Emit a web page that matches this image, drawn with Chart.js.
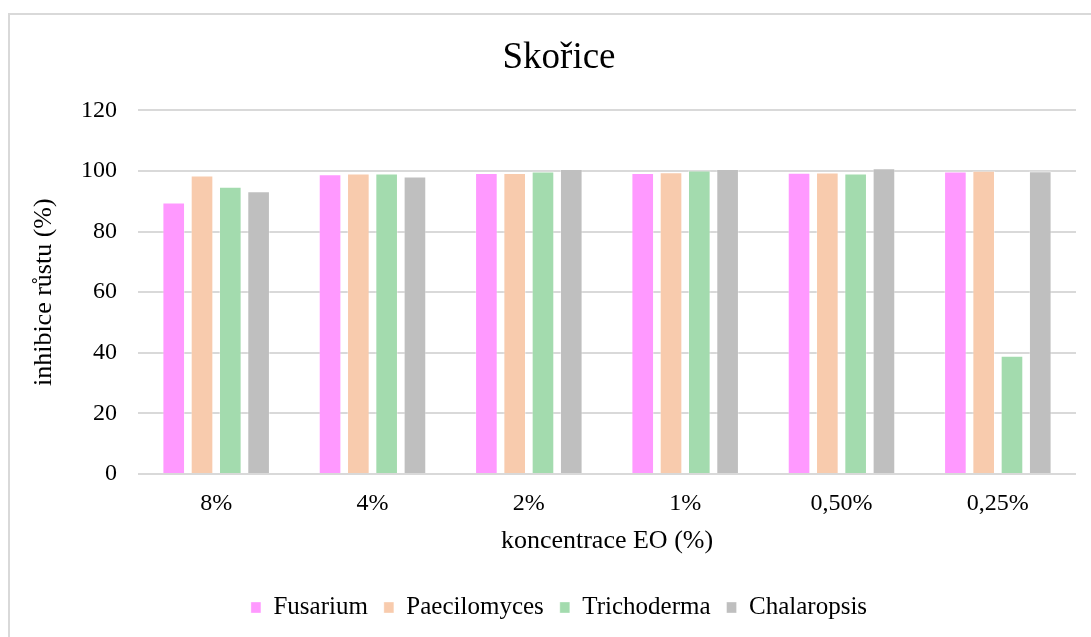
<!DOCTYPE html>
<html>
<head>
<meta charset="utf-8">
<script src="https://cdn.jsdelivr.net/npm/chart.js@4/dist/chart.umd.min.js"></script>
<style>
  html, body { margin: 0; padding: 0; background: #fff; overflow: hidden; width: 1091px; height: 637px; }
  #c { position: absolute; left: 0; top: 0; }
  #frame { position: absolute; left: 8px; top: 13px; width: 2000px; height: 2000px;
           border-left: 2px solid #d9d9d9; border-top: 2px solid #d9d9d9; pointer-events: none; }
</style>
</head>
<body>
<canvas id="c" width="1114" height="637" style="width:1114px;height:637px"></canvas>
<div id="frame"></div>
<script>
const categories = ['8%', '4%', '2%', '1%', '0,50%', '0,25%'];
const fusarium     = [89.6, 98.9, 99.3, 99.3, 99.4, 99.8];
const paecilomyces = [98.5, 99.2, 99.3, 99.6, 99.5, 100.1];
const trichoderma  = [94.8, 99.2, 99.8, 100.2, 99.2, 39.0];
const chalaropsis  = [93.3, 98.2, 100.7, 100.7, 100.9, 99.9];
const seriesNames  = ['Fusarium', 'Paecilomyces', 'Trichoderma', 'Chalaropsis'];
const seriesColors = ['#FF99FF', '#F8CBAD', '#A3DBAE', '#BFBFBF'];
const yTicks = [0, 20, 40, 60, 80, 100, 120];

const FONT = "'Liberation Serif', 'Times New Roman', serif";
const seriesData = [fusarium, paecilomyces, trichoderma, chalaropsis];

new Chart(document.getElementById('c'), {
  type: 'bar',
  data: {
    labels: categories,
    datasets: seriesNames.map((n, i) => ({
      label: n,
      data: seriesData[i],
      backgroundColor: seriesColors[i],
      borderColor: 'rgba(255,255,255,0.35)',
      borderWidth: 1,
      categoryPercentage: 0.724,
      barPercentage: 0.8
    }))
  },
  options: {
    responsive: false,
    animation: false,
    devicePixelRatio: 1,
    layout: { padding: { left: 42, right: 38, top: 0, bottom: 7 } },
    plugins: {
      title: {
        display: true,
        text: 'Skořice',
        color: '#000',
        font: { family: FONT, size: 37, weight: 'normal' },
        padding: { top: 36, bottom: 30 }
      },
      legend: {
        position: 'bottom',
        labels: {
          color: '#000',
          font: { family: FONT, size: 25 },
          boxWidth: 10,
          boxHeight: 11,
          padding: 16
        }
      },
      tooltip: { enabled: false }
    },
    scales: {
      x: {
        grid: { display: false, drawTicks: false },
        border: { display: false },
        ticks: { color: '#000', font: { family: FONT, size: 24 }, padding: 15 },
        title: {
          display: true,
          text: 'koncentrace EO (%)',
          color: '#000',
          font: { family: FONT, size: 26 },
          padding: { top: 0, bottom: 22 }
        },
        afterFit: (axis) => { axis.height = 105; }
      },
      y: {
        min: 0,
        max: 120,
        afterBuildTicks: (axis) => { axis.ticks = yTicks.map(v => ({ value: v })); },
        grid: { color: '#d9d9d9', lineWidth: 2, drawTicks: false },
        border: { display: false },
        ticks: { color: '#000', font: { family: FONT, size: 24 }, padding: 21 },
        title: {
          display: true,
          text: 'inhibice růstu (%)',
          color: '#000',
          font: { family: FONT, size: 26 },
          padding: { top: -13, bottom: 0 }
        },
        afterFit: (axis) => { axis.width = 96; }
      }
    }
  }
});
</script>
</body>
</html>
